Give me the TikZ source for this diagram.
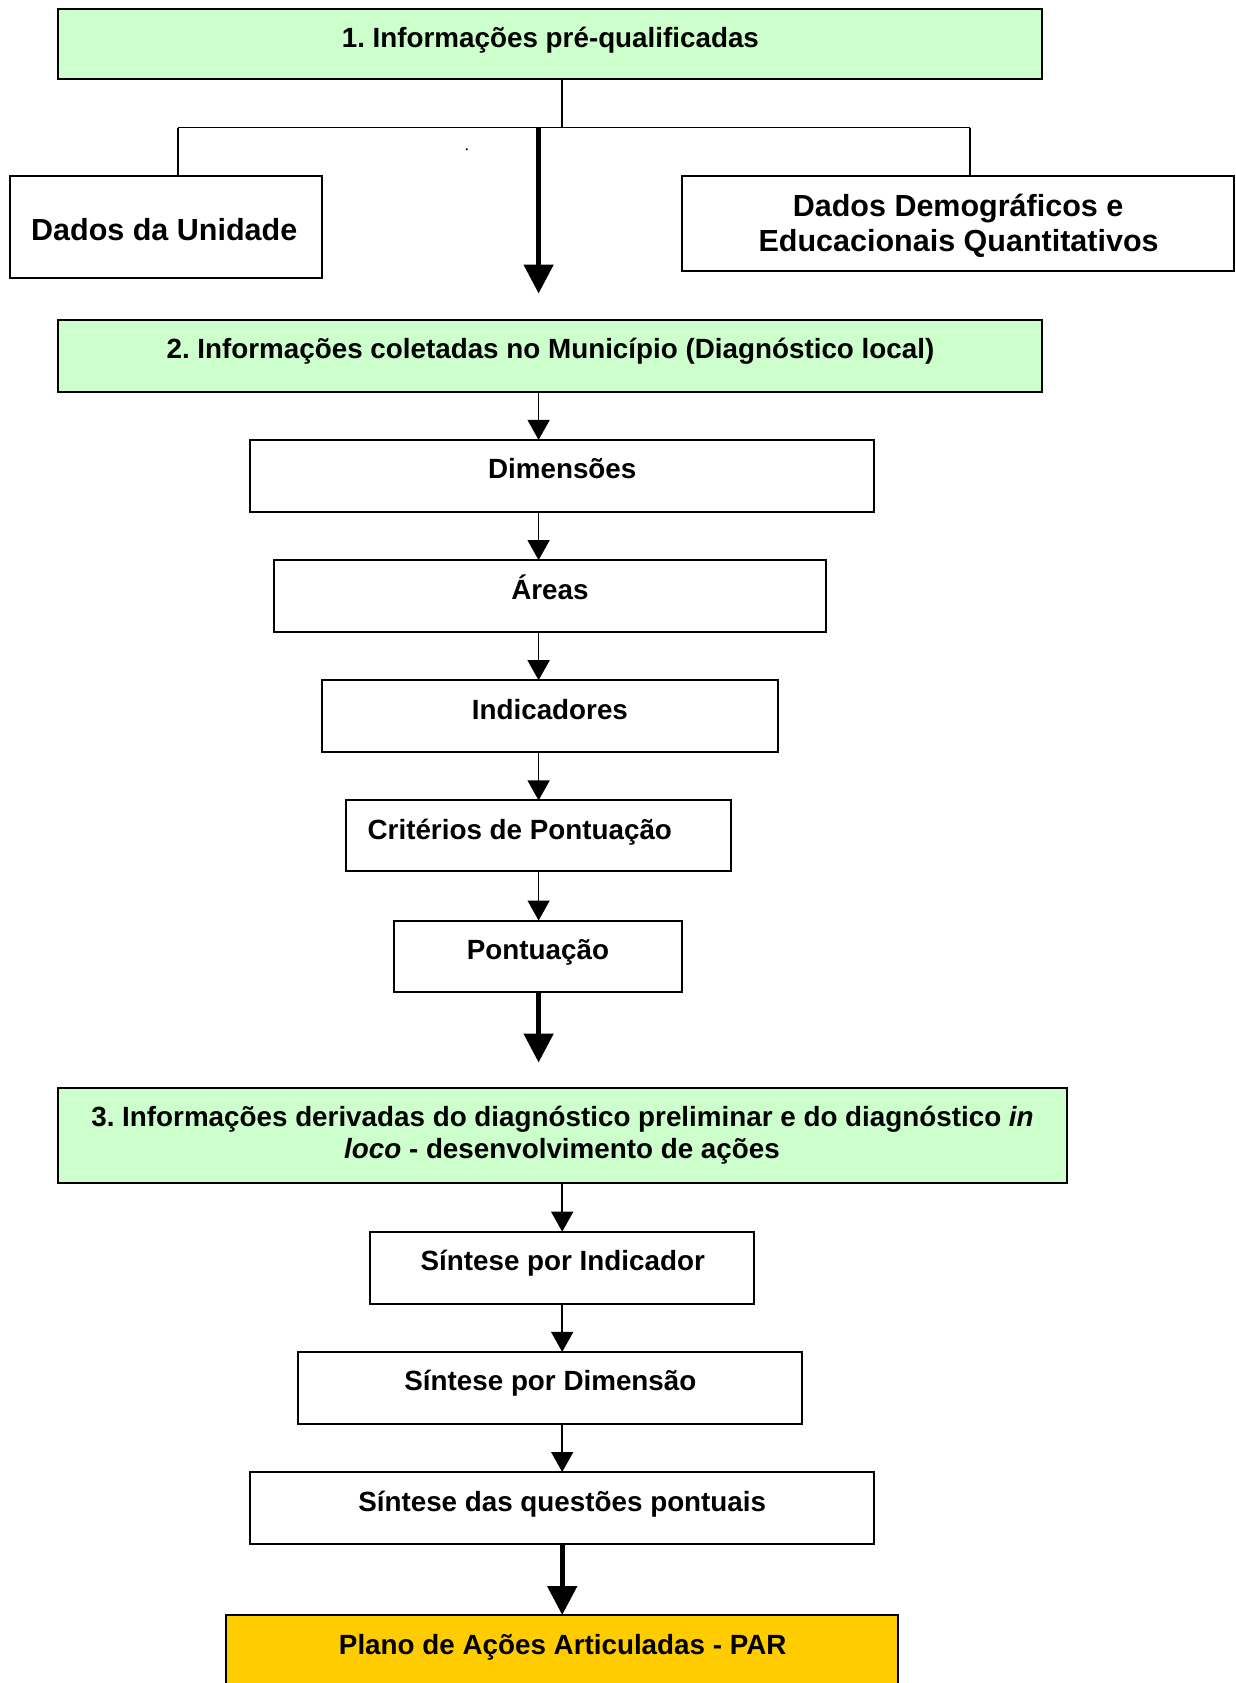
\documentclass[tikz,border=0pt]{standalone}
\usepackage{fontspec}
\setmainfont{Liberation Sans}
\usetikzlibrary{arrows.meta,calc}
\definecolor{lgreen}{HTML}{CCFFCC}
\definecolor{pargold}{HTML}{FFCC00}
\frenchspacing
\begin{document}
\begin{tikzpicture}[x=1pt,y=-1pt,
  box/.style={draw=black, line width=2pt, rectangle, inner sep=0pt, outer sep=0pt, anchor=north west},
  greenbox/.style={box, fill=lgreen},
  goldbox/.style={box, fill=pargold},
  lbl/.style={anchor=base, inner sep=0pt, font=\fontsize{27.8}{33}\selectfont\bfseries},
  biglbl/.style={anchor=base, inner sep=0pt, font=\fontsize{30.5}{36}\selectfont\bfseries},
  thinarrow/.style={line width=1.5pt, -{Triangle[length=20pt,width=22pt]}},
  thickarrow/.style={line width=5pt, -{Triangle[length=29pt,width=29pt]}},
  conn/.style={line width=1.5pt}
]
\path[use as bounding box] (0,0) rectangle (1236,1683);
\clip (0,0) rectangle (1236,1683);

% guide x positions
\coordinate (ax) at (538.6,0);
\coordinate (bx) at (562.2,0);

% boxes
\node[greenbox, minimum width=984pt, minimum height=70.8pt] (b1) at (58,8.6) {};
\node[box, minimum width=312pt, minimum height=102pt] (du) at (9.7,176) {};
\node[box, minimum width=551.4pt, minimum height=95.4pt] (dd) at (682.4,176) {};
\node[greenbox, minimum width=984pt, minimum height=72pt] (b2) at (58,319.7) {};
\node[box, minimum width=624.4pt, minimum height=72pt] (dim) at (250,439.9) {};
\node[box, minimum width=552.5pt, minimum height=72pt] (are) at (273.6,560.1) {};
\node[box, minimum width=456pt, minimum height=72pt] (ind) at (321.9,680.2) {};
\node[box, minimum width=385pt, minimum height=71pt] (cri) at (345.5,800.4) {};
\node[box, minimum width=288.6pt, minimum height=71pt] (pon) at (393.8,920.5) {};
\node[greenbox, minimum width=1008.5pt, minimum height=95.5pt] (b3) at (58,1087.9) {};
\node[box, minimum width=384pt, minimum height=72pt] (si) at (370.2,1231.7) {};
\node[box, minimum width=504pt, minimum height=72pt] (sd) at (298.3,1351.9) {};
\node[box, minimum width=624.4pt, minimum height=72pt] (sq) at (250,1472) {};
\node[goldbox, minimum width=671.6pt, minimum height=120pt] (par) at (226.4,1615) {};

% labels
\node[lbl] (b1t) at (550.4,47.6) {1. Informações pré-qualificadas};
\node[biglbl] (dut) at (164.2,240.5) {Dados da Unidade};
\node[biglbl] (ddt1) at (958.1,216.5) {Dados Demográficos e};
\node[biglbl] (ddt2) at (958.6,251.5) {Educacionais Quantitativos};
\node[lbl] (b2t) at (550.4,358.7) {2. Informações coletadas no Município (Diagnóstico local)};
\node[lbl] (dimt) at (562.2,478.9) {Dimensões};
\node[lbl] (aret) at (549.9,599.1) {Áreas};
\node[lbl] (indt) at (549.9,719.2) {Indicadores};
\node[lbl] (crit) at (519.8,839.4) {Critérios de Pontuação};
\node[lbl] (pont) at (538,959.5) {Pontuação};
\node[lbl] (b3t1) at (562.5,1126) {3. Informações derivadas do diagnóstico preliminar e do diagnóstico \textit{in}};
\node[lbl] (b3t2) at (562,1158) {\textit{loco} - desenvolvimento de ações};
\node[lbl] (sit) at (562.7,1270.7) {Síntese por Indicador};
\node[lbl] (sdt) at (550.4,1390.9) {Síntese por Dimensão};
\node[lbl] (sqt) at (562.2,1511) {Síntese das questões pontuais};
\node[lbl] (part) at (562.7,1654) {Plano de Ações Articuladas - PAR};

% top connector tree
\coordinate (j) at (562.2,127.7);
\coordinate (jl) at (178.1,127.7);
\coordinate (jr) at (969.9,127.7);
\coordinate (ja) at (538.6,127.7);
\coordinate (t1) at (538.6,293.5);
\draw[conn] (b1.south -| bx) -- (j);
\draw[conn] (jl) -- (jr);
\draw[conn] (jl) -- (du.north -| jl);
\draw[conn] (jr) -- (dd.north -| jr);
\draw[thickarrow] (ja) -- (t1);
\fill (466.7,149.3) circle (1.1pt);

% middle chain
\draw[thinarrow] (b2.south -| ax) -- (dim.north -| ax);
\draw[thinarrow] (dim.south -| ax) -- (are.north -| ax);
\draw[thinarrow] (are.south -| ax) -- (ind.north -| ax);
\draw[thinarrow] (ind.south -| ax) -- (cri.north -| ax);
\draw[thinarrow] (cri.south -| ax) -- (pon.north -| ax);
\coordinate (t2) at (538.6,1062.5);
\draw[thickarrow] (pon.south -| ax) -- (t2);

% bottom chain
\draw[thinarrow] (b3.south -| bx) -- (si.north -| bx);
\draw[thinarrow] (si.south -| bx) -- (sd.north -| bx);
\draw[thinarrow] (sd.south -| bx) -- (sq.north -| bx);
\draw[thickarrow] (sq.south -| bx) -- (par.north -| bx);
\end{tikzpicture}
\end{document}
